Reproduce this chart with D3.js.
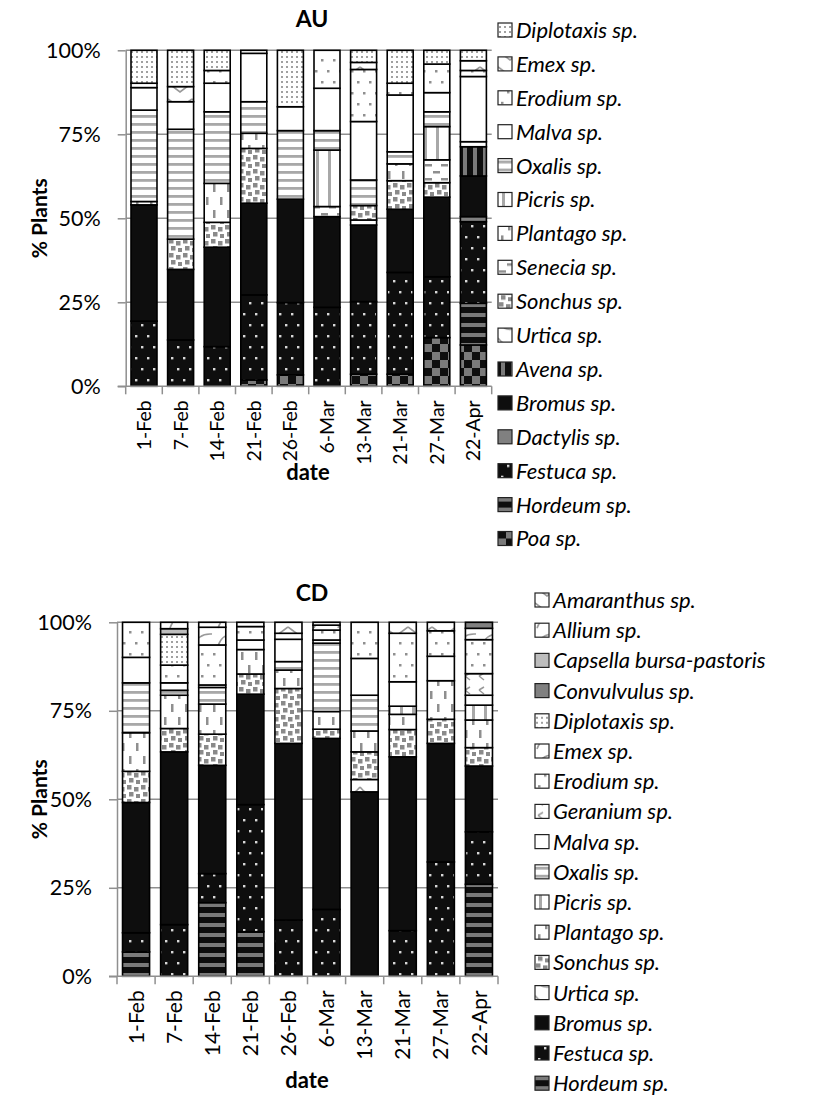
<!DOCTYPE html>
<html>
<head>
<meta charset="utf-8">
<script src="https://cdn.jsdelivr.net/npm/d3@7"></script>
<style>
  body { margin: 0; background: #fff; }
  svg { display: block; font-family: Lato, "Open Sans", sans-serif; }
</style>
</head>
<body>
<script>
// Sampling dates (x categories) and percent ticks
const dates = ["1-Feb","7-Feb","14-Feb","21-Feb","26-Feb","6-Mar","13-Mar","21-Mar","27-Mar","22-Apr"];
const pctTicks = [0, 25, 50, 75, 100];

// AU site: % of plants per genus, one value per date (stacked bottom -> top)
const au_Poa        = [0, 0, 0, 1.9, 3.4, 0, 3.6, 3.6, 14.5, 12.3];
const au_Hordeum    = [0, 0, 0, 0, 0, 0, 0, 0, 0, 12.4];
const au_Festuca    = [19.4, 13.8, 11.8, 25.3, 21.5, 23.5, 21.6, 30.3, 18.1, 24.3];
const au_Dactylis   = [0, 0, 0, 0, 0, 0, 0, 0, 0, 1.5];
const au_Bromus     = [34.6, 21.0, 29.6, 27.3, 30.8, 27.0, 22.8, 18.8, 23.7, 12.1];
const au_Avena      = [0, 0, 0, 0, 0, 0, 0, 0, 0, 8.7];
const au_Urtica     = [0, 0, 0, 0, 0, 0, 1.5, 0, 0, 0];
const au_Sonchus    = [0, 9.0, 7.4, 16.3, 0, 0, 4.3, 8.5, 4.3, 0];
const au_Senecia    = [0, 0, 0, 0, 0, 3.0, 0, 0, 6.8, 0];
const au_Plantago   = [1.0, 0, 11.6, 4.5, 0, 0, 0, 5.0, 0, 0];
const au_Picris     = [0, 0, 0, 0, 0, 16.8, 0, 0, 9.9, 0];
const au_Oxalis     = [27.2, 32.7, 21.3, 9.4, 20.4, 5.8, 7.6, 3.6, 4.4, 1.5];
const au_Malva      = [6.7, 8.2, 8.5, 14.4, 7.1, 12.6, 17.4, 16.9, 5.7, 19.4];
const au_Erodium    = [1.3, 0, 3.8, 0.9, 0, 11.3, 15.5, 3.5, 8.5, 1.8];
const au_Emex       = [0, 4.5, 0, 0, 0, 0, 2.1, 0, 0, 2.9];
const au_Diplotaxis = [9.8, 10.8, 6.0, 0, 16.8, 0, 3.6, 9.8, 4.1, 3.1];

// CD site
const cd_Hordeum     = [6.9, 0, 20.8, 12.6, 0, 0, 0, 0, 0, 26.0];
const cd_Festuca     = [5.4, 14.6, 8.2, 35.9, 15.9, 18.9, 0, 12.9, 32.3, 14.8];
const cd_Bromus      = [36.8, 48.8, 30.6, 31.2, 49.9, 48.3, 52.1, 49.1, 33.5, 18.6];
const cd_Urtica      = [0, 0, 0, 0, 0, 0, 3.5, 0, 0, 0];
const cd_Sonchus     = [8.8, 6.6, 8.8, 5.7, 15.5, 2.6, 7.8, 7.7, 6.8, 5.2];
const cd_Plantago    = [10.9, 9.4, 8.5, 6.9, 5.2, 5.0, 5.9, 4.3, 10.9, 7.8];
const cd_Picris      = [0, 0, 0, 0, 0, 0, 0, 2.3, 0, 4.2];
const cd_Oxalis      = [14.1, 1.4, 4.7, 0, 2.4, 19.3, 10.1, 0, 0, 0];
const cd_Malva       = [7.2, 2.1, 0.7, 2.7, 6.3, 0.9, 10.4, 6.9, 6.9, 2.8];
const cd_Geranium    = [0, 0, 0, 0, 0, 0, 0, 0, 0, 6.1];
const cd_Erodium     = [9.9, 5.0, 11.3, 3.8, 1.7, 2.8, 10.2, 13.7, 7.2, 9.6];
const cd_Emex        = [0, 0, 5.0, 0, 0, 1.4, 0, 0, 0, 3.2];
const cd_Diplotaxis  = [0, 8.7, 0, 1.2, 0, 0, 0, 0, 0, 0];
const cd_Convulvulus = [0, 0, 0, 0, 0, 0, 0, 0, 0, 1.7];
const cd_Capsella    = [0, 1.6, 0, 0, 0, 0, 0, 0, 0, 0];
const cd_Allium      = [0, 1.8, 1.4, 0, 0, 0, 0, 0, 0, 0];
const cd_Amaranthus  = [0, 0, 0, 0, 3.1, 0.8, 0, 3.1, 2.4, 0];

// Series lists, bottom of stack first: [legend name, values, fill key]
const auSeries = [
  ["Poa sp.", au_Poa, "poa"], ["Hordeum sp.", au_Hordeum, "hordeum"],
  ["Festuca sp.", au_Festuca, "festuca"], ["Dactylis sp.", au_Dactylis, "gray"],
  ["Bromus sp.", au_Bromus, "black"], ["Avena sp.", au_Avena, "avena"],
  ["Urtica sp.", au_Urtica, "curve"], ["Sonchus sp.", au_Sonchus, "squares"],
  ["Senecia sp.", au_Senecia, "hDash"], ["Plantago sp.", au_Plantago, "vDash"],
  ["Picris sp.", au_Picris, "vStripe"], ["Oxalis sp.", au_Oxalis, "hStripe"],
  ["Malva sp.", au_Malva, "white"], ["Erodium sp.", au_Erodium, "dotsSparse"],
  ["Emex sp.", au_Emex, "vzig"], ["Diplotaxis sp.", au_Diplotaxis, "dotsDense"]
];
const cdSeries = [
  ["Hordeum sp.", cd_Hordeum, "hordeum"], ["Festuca sp.", cd_Festuca, "festuca"],
  ["Bromus sp.", cd_Bromus, "black"], ["Urtica sp.", cd_Urtica, "curve"],
  ["Sonchus sp.", cd_Sonchus, "squares"], ["Plantago sp.", cd_Plantago, "vDash"],
  ["Picris sp.", cd_Picris, "vStripe"], ["Oxalis sp.", cd_Oxalis, "hStripe"],
  ["Malva sp.", cd_Malva, "white"], ["Geranium sp.", cd_Geranium, "diag"],
  ["Erodium sp.", cd_Erodium, "dotsSparse"], ["Emex sp.", cd_Emex, "wave"],
  ["Diplotaxis sp.", cd_Diplotaxis, "dotsDense"], ["Convulvulus sp.", cd_Convulvulus, "gray"],
  ["Capsella bursa-pastoris", cd_Capsella, "lightGray"], ["Allium sp.", cd_Allium, "wave"],
  ["Amaranthus sp.", cd_Amaranthus, "vzig"]
];

const W = 817, H = 1098;
const svg = d3.select("body").append("svg").attr("width", W).attr("height", H);
const defs = svg.append("defs");

const G = "#8f8f8f", BLK = "#0e0e0e";
function pat(id, w, h, bg, draw) {
  const p = defs.append("pattern").attr("id", id)
    .attr("patternUnits", "userSpaceOnUse").attr("width", w).attr("height", h);
  p.append("rect").attr("width", w).attr("height", h).attr("fill", bg);
  draw(p);
}
const sq = (p, x, y, s, c) => p.append("rect").attr("x", x).attr("y", y).attr("width", s).attr("height", s).attr("fill", c);

pat("dotsDense", 5, 5, "#fff", p => sq(p, 1, 1, 2, "#a0a0a0"));
pat("dotsSparse", 12, 22, "#fff", p => { sq(p, 3, 4, 2.5, G); sq(p, 9, 15, 2.5, G); });
pat("hStripe", 8, 8, "#fff", p => p.append("rect").attr("x", 0).attr("y", 3).attr("width", 8).attr("height", 2.8).attr("fill", "#a8a8a8"));
pat("vStripe", 12, 12, "#fff", p => p.append("rect").attr("x", 4).attr("y", 0).attr("width", 3).attr("height", 12).attr("fill", "#a8a8a8"));
pat("vDash", 14, 26, "#fff", p => {
  p.append("rect").attr("x", 3).attr("y", 2).attr("width", 2.5).attr("height", 8).attr("fill", G);
  p.append("rect").attr("x", 10).attr("y", 15).attr("width", 2.5).attr("height", 8).attr("fill", G);
});
pat("hDash", 16, 14, "#fff", p => {
  p.append("rect").attr("x", 1).attr("y", 3).attr("width", 7).attr("height", 2.5).attr("fill", G);
  p.append("rect").attr("x", 9).attr("y", 10).attr("width", 7).attr("height", 2.5).attr("fill", G);
});
pat("squares", 14, 14, "#fff", p => {
  [[1,1],[8,3],[3,8],[10,10]].forEach(([x,y]) => sq(p, x, y, 4.5, "#8a8a8a"));
});
pat("vzig", 24, 16, "#fff", p => p.append("path").attr("d", "M0,3 L12,12 L24,3").attr("fill", "none").attr("stroke", "#999").attr("stroke-width", 1.6));
pat("curve", 24, 16, "#fff", p => p.append("path").attr("d", "M0,3 Q12,18 24,3").attr("fill", "none").attr("stroke", "#999").attr("stroke-width", 1.6));
pat("wave", 24, 18, "#fff", p => p.append("path").attr("d", "M2,16 Q6,3 20,4").attr("fill", "none").attr("stroke", "#999").attr("stroke-width", 1.6));
pat("diag", 14, 14, "#fff", p => p.append("path").attr("d", "M3,4 L8,1 M3,4 L8,8").attr("fill", "none").attr("stroke", "#999").attr("stroke-width", 1.5));
pat("avena", 10, 10, BLK, p => p.append("rect").attr("x", 3).attr("y", 0).attr("width", 4).attr("height", 10).attr("fill", "#7a7a7a"));
pat("festuca", 12, 22, BLK, p => { sq(p, 3, 5, 2.4, "#d8d8d8"); sq(p, 9, 16, 2.4, "#d8d8d8"); });
pat("hordeum", 10, 10, BLK, p => p.append("rect").attr("x", 0).attr("y", 3).attr("width", 10).attr("height", 4).attr("fill", "#7a7a7a"));
pat("poa", 16, 16, BLK, p => { sq(p, 0, 0, 8, "#7a7a7a"); sq(p, 8, 8, 8, "#7a7a7a"); });

const solid = { white: "#fff", black: BLK, gray: "#808080", lightGray: "#bdbdbd" };
const fillOf = k => solid[k] || `url(#${k})`;

function drawChart(cfg) {
  const { series, left, right, top, bottom } = cfg;
  const names = series.map(s => s[0]);
  const rows = dates.map((d, i) => {
    const r = { date: d };
    series.forEach(s => { r[s[0]] = s[1][i]; });
    return r;
  });
  const stacked = d3.stack().keys(names)(rows);

  const x = d3.scaleBand().domain(dates).range([left, right]).paddingInner(0.29).paddingOuter(0.145);
  const y = d3.scaleLinear().domain([0, 100]).range([bottom, top]);
  const g = svg.append("g");

  // horizontal gridlines
  g.append("g").selectAll("line").data(pctTicks.filter(t => t > 0)).join("line")
    .attr("x1", left).attr("x2", right).attr("y1", d => y(d)).attr("y2", d => y(d))
    .attr("stroke", G).attr("stroke-width", 1.5);

  // y axis
  const ya = g.append("g").attr("transform", `translate(${left},0)`)
    .call(d3.axisLeft(y).tickValues(pctTicks).tickSize(8).tickSizeOuter(0).tickPadding(17).tickFormat(d => d + "%"));
  ya.selectAll("path, line").attr("stroke", G).attr("stroke-width", 1.5);
  ya.selectAll("text").attr("font-size", 21.5).attr("fill", "#000").attr("font-family", "Lato, sans-serif");

  // stacked bars
  stacked.forEach((layer, li) => {
    const key = series[li][2];
    g.append("g").selectAll("rect").data(layer.filter(d => d[1] - d[0] > 0)).join("rect")
      .attr("x", d => x(d.data.date)).attr("width", x.bandwidth())
      .attr("y", d => y(d[1])).attr("height", d => y(d[0]) - y(d[1]))
      .attr("fill", fillOf(key)).attr("stroke", "#000").attr("stroke-width", 1.6);
  });

  // x axis with category boundary ticks and rotated date labels
  const xa = g.append("g").attr("transform", `translate(0,${bottom})`)
    .call(d3.axisBottom(x).tickSize(0).tickSizeOuter(0));
  xa.select(".domain").remove();
  xa.selectAll("text").attr("font-size", cfg.xFont).attr("fill", "#000").attr("font-family", "Lato, sans-serif")
    .attr("transform", "rotate(-90)").attr("text-anchor", "end")
    .attr("x", -cfg.xPad).attr("y", 0).attr("dy", "0.36em");
  const bounds = d3.range(dates.length + 1).map(i => left + i * x.step());
  g.append("line").attr("x1", left - 8).attr("x2", right).attr("y1", bottom).attr("y2", bottom)
    .attr("stroke", G).attr("stroke-width", 1.5);
  g.append("g").selectAll("line").data(bounds).join("line")
    .attr("x1", d => d).attr("x2", d => d).attr("y1", bottom).attr("y2", bottom + 8)
    .attr("stroke", G).attr("stroke-width", 1.5);

  // titles
  g.append("text").attr("x", cfg.titleX).attr("y", cfg.titleY).attr("text-anchor", "middle")
    .attr("font-size", 23).attr("font-weight", "bold").text(cfg.title);
  g.append("text").attr("transform", `translate(${cfg.yLabelX},${(top + bottom) / 2}) rotate(-90)`)
    .attr("text-anchor", "middle").attr("font-size", 21).attr("font-weight", "bold").text("% Plants");
  g.append("text").attr("x", cfg.xLabelX).attr("y", cfg.xLabelY).attr("text-anchor", "middle")
    .attr("font-size", 22).attr("font-weight", "bold").text("date");

  // legend, top of stack first
  const leg = g.append("g").selectAll("g").data(series.slice().reverse()).join("g")
    .attr("transform", (d, i) => `translate(${cfg.legX},${cfg.legY + i * cfg.legStep})`);
  leg.append("rect").attr("x", 0).attr("y", -7).attr("width", 14).attr("height", 14)
    .attr("fill", d => fillOf(d[2])).attr("stroke", "#222").attr("stroke-width", 1.2);
  leg.append("text").attr("x", 18).attr("y", 0).attr("dy", "0.36em")
    .attr("font-size", 22).attr("font-style", "italic").text(d => d[0]);
}

drawChart({ series: auSeries, left: 125.7, right: 491.7, top: 50.3, bottom: 386.3,
  title: "AU", titleX: 312, titleY: 27, yLabelX: 47, xLabelX: 308, xLabelY: 480,
  xFont: 19.5, xPad: 14, legX: 498, legY: 30, legStep: 33.9 });
drawChart({ series: cdSeries, left: 117, right: 498, top: 622.3, bottom: 976.3,
  title: "CD", titleX: 312, titleY: 601, yLabelX: 47, xLabelX: 307, xLabelY: 1088,
  xFont: 21, xPad: 14, legX: 535, legY: 600, legStep: 30.2 });
</script>
</body>
</html>
